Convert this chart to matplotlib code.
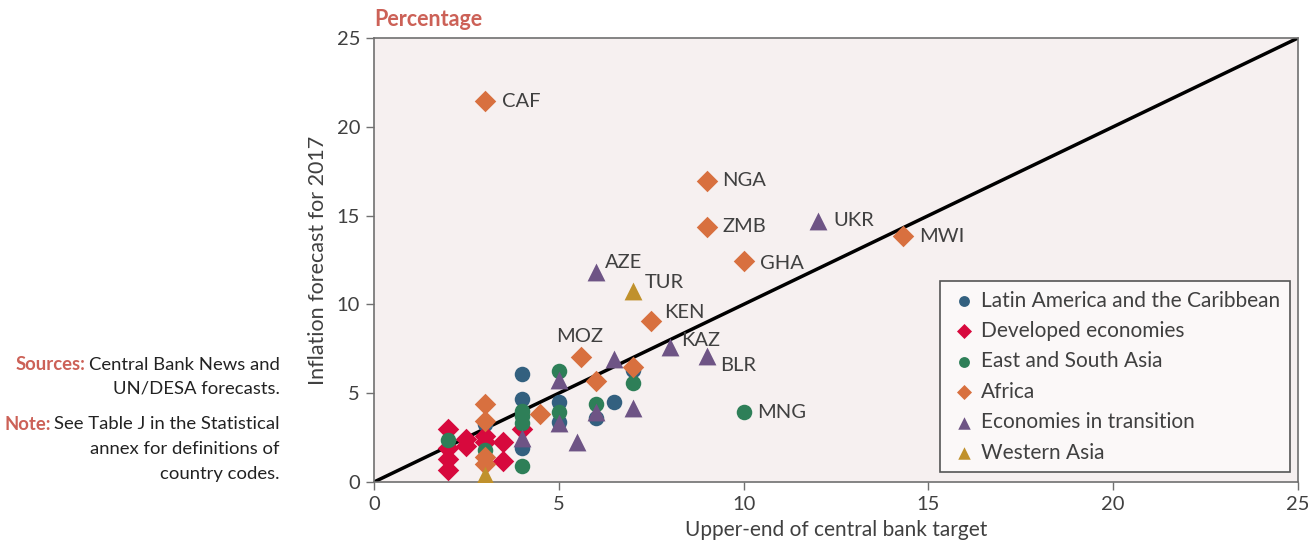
import matplotlib
matplotlib.use("Agg")
import matplotlib.pyplot as plt

plt.rcParams['font.family'] = ['Lato', 'DejaVu Sans']

# ---- data ----
latam_x = [4, 4, 4, 3, 5, 5, 6, 6.5, 7]
latam_y = [6.1, 4.7, 1.9, 3.27, 4.5, 3.38, 3.6, 4.5, 6.33]

dev_x = [2, 2, 2, 2, 2.5, 2.5, 3, 3, 3.5, 3.5, 4]
dev_y = [3.0, 1.9, 1.27, 0.65, 2.4, 2.0, 2.6, 2.25, 2.25, 1.2, 3.0]

asia_x = [2, 3, 4, 4, 4, 4, 5, 5, 6, 7, 10]
asia_y = [2.36, 1.8, 3.97, 3.7, 3.3, 0.9, 6.25, 3.94, 4.4, 5.56, 3.94]

africa_x = [3, 3, 3, 3, 3, 4.5, 5.6, 6, 7, 7.5, 9, 9, 10, 14.3]
africa_y = [21.45, 4.4, 3.46, 1.4, 1.0, 3.83, 7.04, 5.7, 6.5, 9.07, 16.95, 14.36, 12.44, 13.85]

trans_x = [4, 5, 5, 5.5, 6, 6, 6.5, 7, 8, 9, 12]
trans_y = [2.5, 5.75, 3.3, 2.28, 3.94, 11.8, 6.9, 4.17, 7.6, 7.1, 14.7]

wasia_x = [3, 7]
wasia_y = [0.4, 10.75]

labels = ["CAF", "NGA", "ZMB", "UKR", "MWI", "GHA", "AZE", "TUR", "KEN", "MOZ", "KAZ", "BLR", "MNG"]
label_x = [3, 9, 9, 12, 14.3, 10, 6, 7, 7.5, 5.6, 8, 9, 10]
label_y = [21.45, 16.95, 14.36, 14.7, 13.85, 12.44, 11.8, 10.75, 9.07, 7.04, 7.6, 7.1, 3.94]

series_names = ["Latin America and the Caribbean", "Developed economies",
                "East and South Asia", "Africa", "Economies in transition", "Western Asia"]

# ---- styles ----
col_latam = "#33607f"
col_dev = "#d7093d"
col_asia = "#2e7f58"
col_africa = "#d8703f"
col_trans = "#6e5485"
col_wasia = "#c0912c"
txt = "#404040"
accent = "#cc6157"

fig = plt.figure(figsize=(13.08, 5.51), dpi=100)
ax = fig.add_axes([374/1308, 1-482/551, 924/1308, 444/551])
ax.set_facecolor("#f6f0f0")

ax.plot([0, 25], [0, 25], color="black", lw=2.5, zorder=2)

ms_c = 125
ms_d = 120
ms_t = 165
ax.scatter(latam_x, latam_y, s=ms_c, marker='o', color=col_latam, label=series_names[0], zorder=3, linewidths=0)
ax.scatter(dev_x, dev_y, s=ms_d, marker='D', color=col_dev, label=series_names[1], zorder=3, linewidths=0)
ax.scatter(asia_x, asia_y, s=ms_c, marker='o', color=col_asia, label=series_names[2], zorder=3, linewidths=0)
ax.scatter(africa_x, africa_y, s=ms_d, marker='D', color=col_africa, label=series_names[3], zorder=3, linewidths=0)
ax.scatter(trans_x, trans_y, s=ms_t, marker='^', color=col_trans, label=series_names[4], zorder=3, linewidths=0)
ax.scatter(wasia_x, wasia_y, s=ms_t, marker='^', color=col_wasia, label=series_names[5], zorder=3, linewidths=0)

# label offsets in points
offsets = {
    "CAF": (12, 0, 'left'), "NGA": (11.5, 0, 'left'), "ZMB": (11.5, 0, 'left'),
    "UKR": (11.5, 0, 'left'), "MWI": (12, 0, 'left'), "GHA": (11.5, -1.5, 'left'),
    "AZE": (6.5, 7, 'left'), "TUR": (8.5, 6, 'left'), "KEN": (9.5, 6, 'left'),
    "MOZ": (-1, 14.5, 'center'), "KAZ": (8, 4.5, 'left'), "BLR": (10, -7, 'left'),
    "MNG": (10, 0, 'left'),
}
for lab, lx, ly in zip(labels, label_x, label_y):
    dx, dy, ha = offsets[lab]
    ax.annotate(lab, (lx, ly), xytext=(dx, dy), textcoords='offset points',
                ha=ha, va='center', fontsize=14.5, color=txt, zorder=4)

ax.set_xlim(0, 25)
ax.set_ylim(0, 25)
ax.set_xticks([0, 5, 10, 15, 20, 25])
ax.set_yticks([0, 5, 10, 15, 20, 25])
ax.tick_params(axis='both', direction='out', length=6, width=1, color="#707070",
               labelsize=14.5, labelcolor=txt, pad=4)
for sp in ax.spines.values():
    sp.set_color("#707070")
    sp.set_linewidth(1.2)

ax.set_xlabel("Upper-end of central bank target", fontsize=15, color=txt, labelpad=5)
ax.set_ylabel("Inflation forecast for 2017", fontsize=15.5, color=txt, labelpad=6)

fig.text(374/1308, 1-20/551, "Percentage", fontsize=15.5, fontweight='bold', color=accent,
         ha='left', va='center')

leg = ax.legend(loc='lower right', bbox_to_anchor=(0.991, 0.0225), borderaxespad=0,
                fontsize=15, frameon=True, fancybox=False, edgecolor="#555555",
                facecolor="#fbf8f8", framealpha=1, labelspacing=0.5, handletextpad=0.1,
                markerscale=0.7, scatterpoints=1, borderpad=0.45, handlelength=1.45)
leg.get_frame().set_linewidth(1.2)
for t in leg.get_texts():
    t.set_color(txt)

# notes on the left
rx = 280/1308
fs = 13.3
def note_line(y_px, bold, rest):
    y = 1 - y_px/551
    t = fig.text(rx, y, rest, fontsize=fs, color="#222222", ha='right', va='center')
    if bold:
        fig.canvas.draw()
        bb = t.get_window_extent()
        fig.text(bb.x0/1308 - 4/1308, y, bold, fontsize=fs, fontweight='bold',
                 color=accent, ha='right', va='center')

note_line(365, "Sources:", "Central Bank News and")
note_line(388, None, "UN/DESA forecasts.")
note_line(424, "Note:", "See Table J in the Statistical")
note_line(449, None, "annex for definitions of")
note_line(474, None, "country codes.")

fig.savefig("out.png", dpi=100)
